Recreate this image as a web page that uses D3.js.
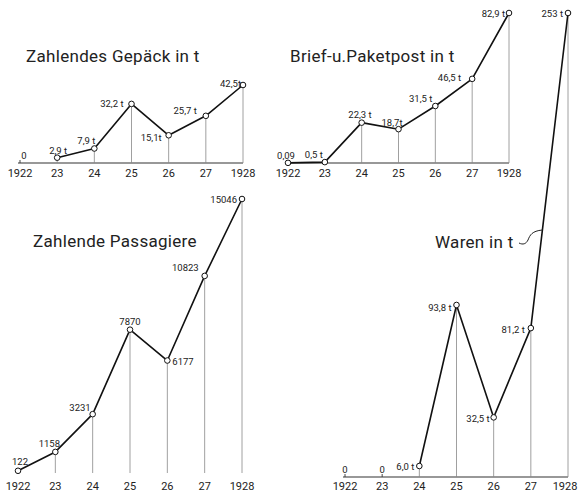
<!DOCTYPE html>
<html>
<head>
<meta charset="utf-8">
<script src="https://cdn.jsdelivr.net/npm/d3@7"></script>
<style>
  html, body { margin: 0; padding: 0; background: #fff; }
  svg { display: block; }
  text { font-family: Roboto, "DejaVu Sans", sans-serif; fill: #222; }
</style>
</head>
<body>
<svg id="chart" width="578" height="497"></svg>
<script>
// ---- data ----
const years = ["1922", "23", "24", "25", "26", "27", "1928"];

const gepaeckValues = [0, 2.9, 7.9, 32.2, 15.1, 25.7, 42.5];
const gepaeckLabels = ["0", "2,9 t", "7,9 t", "32,2 t", "15,1t", "25,7 t", "42,5t"];

const postValues = [0.09, 0.5, 22.3, 18.7, 31.5, 46.5, 82.9];
const postLabels = ["0,09", "0,5 t", "22,3 t", "18,7t", "31,5 t", "46,5 t", "82,9 t"];

const passagiereValues = [122, 1158, 3231, 7870, 6177, 10823, 15046];
const passagiereLabels = ["122", "1158", "3231", "7870", "6177", "10823", "15046"];

const warenValues = [0, 0, 6.0, 93.8, 32.5, 81.2, 253];
const warenLabels = ["0", "0", "6,0 t", "93,8 t", "32,5 t", "81,2 t", "253 t"];

const titles = ["Zahlendes Gepäck in t", "Brief-u.Paketpost in t", "Zahlende Passagiere", "Waren in t"];

// ---- layout (positions only) ----
const panels = [
  { values: gepaeckValues, labels: gepaeckLabels, title: titles[0],
    x0: 20, x1: 243, base: 163, top: 85, axis: true, tickY: 177, lastShift: 0,
    titleX: 26, titleY: 62,
    off: [[4,-4,"middle"],[10,-4,"end"],[1,-5,"end"],[-8,3,"end"],[-7,6,"end"],[-9,-2,"end"],[-2,2,"end"]] },
  { values: postValues, labels: postLabels, title: titles[1],
    x0: 288, x1: 509, base: 163, top: 13, axis: true, tickY: 177, lastShift: 0,
    titleX: 290, titleY: 62,
    off: [[-2,-4,"middle"],[-2,-4,"end"],[10,-5,"end"],[4,-3,"end"],[-3,-4,"end"],[-11,2,"end"],[-4,4,"end"]] },
  { values: passagiereValues, labels: passagiereLabels, title: titles[2],
    x0: 18, x1: 242, base: 473, top: 199, axis: false, tickY: 490, lastShift: 0,
    titleX: 33, titleY: 247,
    off: [[2,-6,"middle"],[-6,-5,"middle"],[-2,-3,"end"],[0,-5,"middle"],[5,4,"start"],[-6,-5,"end"],[-5,4,"end"]] },
  { values: warenValues, labels: warenLabels, title: titles[3],
    x0: 345, x1: 568, base: 477, top: 13, axis: true, tickY: 490, lastShift: -3,
    titleX: 435, titleY: 248,
    off: [[0,-4,"middle"],[0,-4,"middle"],[-5,4,"end"],[-5,6,"end"],[-4,5,"end"],[-6,5,"end"],[-5,4,"end"]] }
];

const svg = d3.select("#chart");

panels.forEach((p, pi) => {
  const g = svg.append("g");
  const x = d3.scalePoint().domain(years).range([p.x0, p.x1]);
  const y = d3.scaleLinear().domain([0, d3.max(p.values)]).range([p.base, p.top]);
  const pts = years.map((yr, i) => ({ yr, v: p.values[i], label: p.labels[i], i }));
  const marked = pts.filter(d => d.v > 0);

  if (p.axis) {
    g.append("line")
      .attr("x1", p.x0 - 2).attr("x2", p.x1)
      .attr("y1", p.base).attr("y2", p.base)
      .attr("stroke", "#333").attr("stroke-width", 1.1);
  }

  g.selectAll("line.drop").data(marked).enter().append("line")
    .attr("class", "drop")
    .attr("x1", d => x(d.yr)).attr("x2", d => x(d.yr))
    .attr("y1", d => y(d.v)).attr("y2", p.base)
    .attr("stroke", "#888").attr("stroke-width", 0.8);

  g.selectAll("line.zt").data(pts.filter(d => d.v === 0)).enter().append("line")
    .attr("class", "zt")
    .attr("x1", d => x(d.yr)).attr("x2", d => x(d.yr))
    .attr("y1", p.base - 3).attr("y2", p.base)
    .attr("stroke", "#333").attr("stroke-width", 0.9);

  g.append("path")
    .datum(marked)
    .attr("fill", "none").attr("stroke", "#111").attr("stroke-width", 1.6)
    .attr("stroke-linejoin", "round")
    .attr("d", d3.line().x(d => x(d.yr)).y(d => y(d.v)));

  g.selectAll("circle").data(marked).enter().append("circle")
    .attr("cx", d => x(d.yr)).attr("cy", d => y(d.v)).attr("r", 2.8)
    .attr("fill", "#fff").attr("stroke", "#111").attr("stroke-width", 1);

  g.selectAll("text.val").data(pts).enter().append("text")
    .attr("class", "val")
    .attr("x", d => x(d.yr) + p.off[d.i][0])
    .attr("y", d => y(d.v) + p.off[d.i][1])
    .attr("text-anchor", d => p.off[d.i][2])
    .attr("font-size", 9.5)
    .text(d => d.label);

  g.selectAll("text.yr").data(years).enter().append("text")
    .attr("class", "yr")
    .attr("x", (d, i) => x(d) + (i === years.length - 1 ? p.lastShift : 0))
    .attr("y", p.tickY)
    .attr("text-anchor", "middle")
    .attr("font-size", 11)
    .text(d => d);

  g.append("text")
    .attr("x", p.titleX).attr("y", p.titleY)
    .attr("font-size", 17)
    .attr("letter-spacing", 0.3)
    .text(p.title);

  if (pi === 3) {
    const xa = x("27"), ya = y(p.values[5]);
    const xb = x("1928"), yb = y(p.values[6]);
    const ty = 230;
    const tx = xa + (xb - xa) * (ya - ty) / (ya - yb);
    const sx = p.titleX + 84, sy = p.titleY - 5;
    const path = d3.path();
    path.moveTo(sx, sy);
    path.bezierCurveTo(sx + 4, sy + 2, sx + 7, sy + 1, sx + 9, sy - 3);
    path.bezierCurveTo(sx + 11, sy - 8, sx + 13, sy - 12, tx, ty);
    g.append("path").attr("d", path.toString())
      .attr("fill", "none").attr("stroke", "#222").attr("stroke-width", 1);
  }
});
</script>
</body>
</html>
